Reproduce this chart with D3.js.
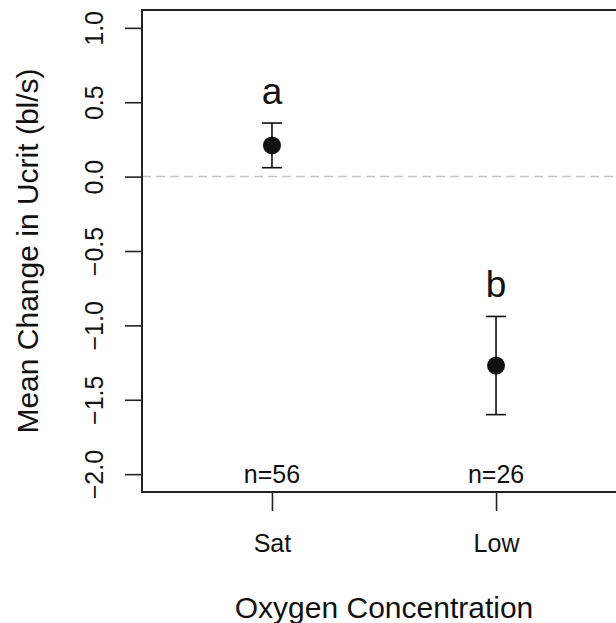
<!DOCTYPE html>
<html>
<head>
<meta charset="utf-8">
<script src="https://d3js.org/d3.v7.min.js"></script>
<style>
  body { margin: 0; background: #fff; }
  text { font-family: "Liberation Sans", Arial, sans-serif; fill: #111; }
</style>
</head>
<body>
<div id="my_dataviz"></div>
<script>
    // data
    var groups = ["Sat", "Low"];
    var means = [0.21, -1.27];
    var upper = [0.36, -0.94];
    var lower = [0.06, -1.60];
    var letters = ["a", "b"];
    var counts = ["n=56", "n=26"];
    var yTicks = [-2.0, -1.5, -1.0, -0.5, 0.0, 0.5, 1.0];

    var W = 616, H = 623;
    // plot box edges (the right side runs past the window)
    var boxL = 142, boxT = 10, boxB = 492, boxR = 626;

    var svg = d3.select("#my_dataviz")
        .append("svg")
        .attr("width", W)
        .attr("height", H);

    // scales (R style, 4% padding)
    var x = d3.scaleLinear()
        .domain([0.42, 2.58])
        .range([boxL, boxR]);

    var y = d3.scaleLinear()
        .domain([-2.12, 1.12])
        .range([boxB, boxT]);

    // dashed reference line at zero
    svg.append("line")
        .attr("x1", boxL).attr("x2", boxR)
        .attr("y1", y(0)).attr("y2", y(0))
        .attr("stroke", "#c4c4c4")
        .attr("stroke-width", 1.5)
        .attr("stroke-dasharray", "9,5");

    // Y axis
    var yAxis = svg.append("g")
        .attr("transform", "translate(" + boxL + ",0)")
        .call(d3.axisLeft(y)
            .tickValues(yTicks)
            .tickSize(17)
            .tickFormat(d3.format(".1f")));
    yAxis.select(".domain").remove();
    yAxis.selectAll(".tick line").attr("stroke", "#222").attr("stroke-width", 1.6);
    yAxis.selectAll(".tick text")
        .attr("x", null).attr("dy", null)
        .attr("transform", "translate(-39,0) rotate(-90)")
        .style("text-anchor", "middle")
        .style("font-size", "25px")
        .style("font-family", "'Liberation Sans', Arial, sans-serif")
        .attr("fill", "#111")
        .text(function (d) { return d3.format(".1f")(d).replace("-", "\u2212"); });

    // X axis
    var xAxis = svg.append("g")
        .attr("transform", "translate(0," + boxB + ")")
        .call(d3.axisBottom(x)
            .tickValues([1, 2])
            .tickSize(19)
            .tickFormat(function (d) { return groups[d - 1]; }));
    xAxis.select(".domain").remove();
    xAxis.selectAll(".tick line").attr("stroke", "#222").attr("stroke-width", 1.6);
    xAxis.selectAll(".tick text")
        .attr("y", 60).attr("dy", null)
        .style("font-size", "25px")
        .style("font-family", "'Liberation Sans', Arial, sans-serif")
        .attr("fill", "#111");

    // plot frame
    svg.append("rect")
        .attr("x", boxL).attr("y", boxT)
        .attr("width", boxR - boxL).attr("height", boxB - boxT)
        .attr("fill", "none")
        .attr("stroke", "#222")
        .attr("stroke-width", 2);

    var idx = d3.range(groups.length);

    // error bars
    svg.append("g").selectAll("line")
        .data(idx).enter().append("line")
        .attr("x1", function (i) { return x(i + 1); })
        .attr("x2", function (i) { return x(i + 1); })
        .attr("y1", function (i) { return y(upper[i]); })
        .attr("y2", function (i) { return y(lower[i]); })
        .attr("stroke", "#111").attr("stroke-width", 1.6);

    svg.append("g").selectAll("line")
        .data(idx.concat(idx)).enter().append("line")
        .attr("x1", function (i) { return x(i + 1) - 10; })
        .attr("x2", function (i) { return x(i + 1) + 10; })
        .attr("y1", function (i, k) { return y(k < groups.length ? upper[i] : lower[i]); })
        .attr("y2", function (i, k) { return y(k < groups.length ? upper[i] : lower[i]); })
        .attr("stroke", "#111").attr("stroke-width", 1.6);

    // mean points
    svg.append("g").selectAll("circle")
        .data(idx).enter().append("circle")
        .attr("cx", function (i) { return x(i + 1); })
        .attr("cy", function (i) { return y(means[i]); })
        .attr("r", 9)
        .attr("fill", "#111");

    // significance letters
    svg.append("g").selectAll("text")
        .data(idx).enter().append("text")
        .attr("x", function (i) { return x(i + 1); })
        .attr("y", function (i) { return y(upper[i]) - 19; })
        .style("text-anchor", "middle")
        .style("font-size", "37px")
        .text(function (i) { return letters[i]; });

    // sample sizes
    svg.append("g").selectAll("text")
        .data(idx).enter().append("text")
        .attr("x", function (i) { return x(i + 1); })
        .attr("y", 483)
        .style("text-anchor", "middle")
        .style("font-size", "25px")
        .text(function (i) { return counts[i]; });

    // axis titles
    svg.append("text")
        .attr("transform", "translate(" + ((boxL + boxR) / 2) + ",618)")
        .style("text-anchor", "middle")
        .style("font-size", "30px")
        .text("Oxygen Concentration");

    svg.append("text")
        .attr("transform", "translate(38," + ((boxT + boxB) / 2) + ") rotate(-90)")
        .style("text-anchor", "middle")
        .style("font-size", "30px")
        .text("Mean Change in Ucrit (bl/s)");
</script>
</body>
</html>
